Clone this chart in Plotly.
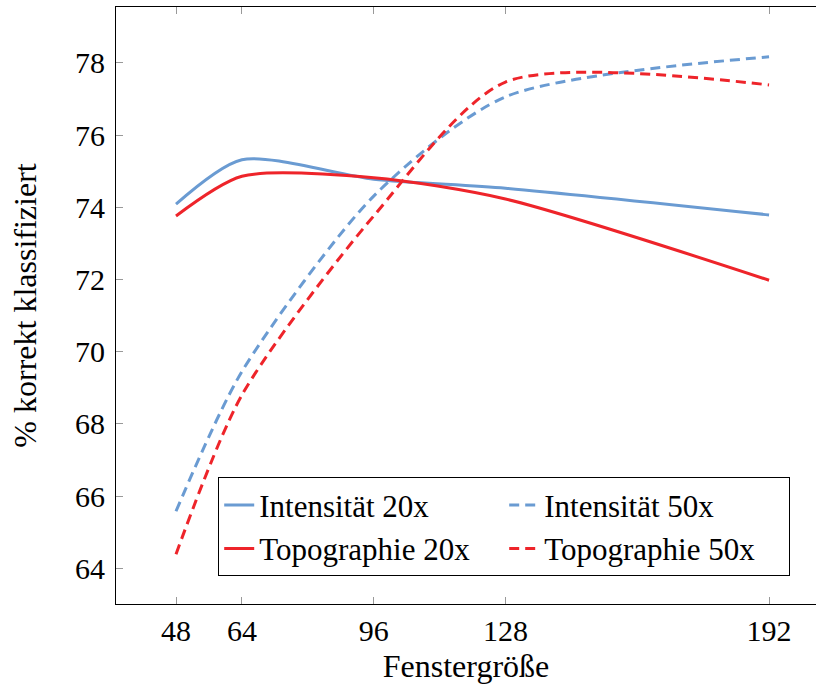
import plotly.graph_objects as go

fenster = [48, 64, 96, 128, 192]
intensitaet_20x = [74.09, 75.32, 74.78, 74.53, 73.79]
topographie_20x = [73.76, 74.86, 74.82, 74.23, 71.98]
intensitaet_50x = [65.58, 69.45, 74.31, 77.06, 78.17]
topographie_50x = [64.39, 68.80, 73.76, 77.47, 77.39]

x_ticks = [48, 64, 96, 128, 192]
y_ticks = [64, 66, 68, 70, 72, 74, 76, 78]

BLUE = "rgb(106,155,210)"
RED = "rgb(238,36,42)"
FONT = "Liberation Serif"

fig = go.Figure()
series = [
    ("Intensität 20x", intensitaet_20x, BLUE, "solid"),
    ("Intensität 50x", intensitaet_50x, BLUE, "10px,6px"),
    ("Topographie 20x", topographie_20x, RED, "solid"),
    ("Topographie 50x", topographie_50x, RED, "10px,6px"),
]
for name, ys, col, dash in series:
    fig.add_trace(go.Scatter(
        x=fenster, y=ys, name=name, mode="lines",
        line=dict(color=col, width=3, dash=dash, shape="spline", smoothing=0.75),
    ))

fig.update_layout(
    width=816, height=684,
    margin=dict(l=116, r=0, t=7, b=80, autoexpand=False),
    paper_bgcolor="white", plot_bgcolor="white",
    font=dict(family=FONT, size=32, color="black"),
    showlegend=True,
    legend=dict(
        orientation="h", x=0.146, y=0.212, xanchor="left", yanchor="top",
        bgcolor="white", bordercolor="black", borderwidth=1,
        entrywidth=240, font=dict(family=FONT, size=31, color="black"),
        tracegroupgap=0,
    ),
)
fig.update_xaxes(
    range=[33.43, 203.4], tickvals=x_ticks, ticktext=[str(v) for v in x_ticks],
    ticks="inside", ticklen=7, tickcolor="#999999", tickwidth=1,
    showline=True, linecolor="black", linewidth=1, mirror="ticks",
    showgrid=False, zeroline=False, automargin=False,
    title=dict(text="Fenstergröße", standoff=8, font=dict(family=FONT, size=32, color="black")),
    tickfont=dict(family=FONT, size=30, color="black"),
)
fig.update_yaxes(
    range=[63.01, 79.55], tickvals=y_ticks, ticktext=[str(v) for v in y_ticks],
    ticks="inside", ticklen=7, tickcolor="#999999", tickwidth=1,
    showline=True, linecolor="black", linewidth=1, mirror=False,
    showgrid=False, zeroline=False, automargin=False, ticklabelstandoff=4,
    title=dict(text="% korrekt klassifiziert", standoff=28, font=dict(family=FONT, size=32, color="black")),
    tickfont=dict(family=FONT, size=30, color="black"),
)

fig.write_html("out.html", config={"displayModeBar": False},
               post_script="document.body.style.margin='0';")
